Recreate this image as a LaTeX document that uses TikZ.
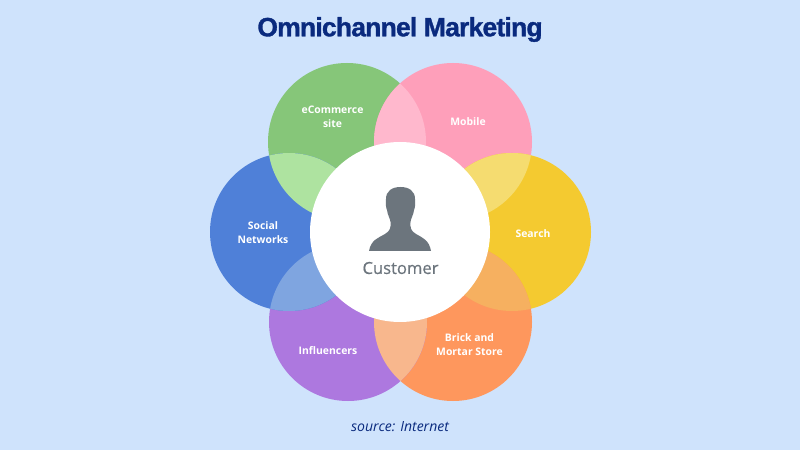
\documentclass[tikz,border=0pt]{standalone}
\usepackage{fontspec}
\setmainfont{Open Sans}
\newfontfamily\titlefont[BoldFeatures={FakeBold=1.2,LetterSpace=-3}]{Liberation Sans}
\newfontfamily\custfont[FakeBold=0.5]{Open Sans}
\definecolor{bgc}{HTML}{CFE3FC}
\definecolor{navy}{HTML}{0A2A7E}
\definecolor{cgreen}{HTML}{86C679}
\definecolor{cpink}{HTML}{FE9FBA}
\definecolor{cyellow}{HTML}{F4CA30}
\definecolor{corange}{HTML}{FE975D}
\definecolor{cpurple}{HTML}{AD78DF}
\definecolor{cblue}{HTML}{4F80D8}
\definecolor{lgp}{HTML}{FFB8CD}
\definecolor{lpy}{HTML}{F5DC70}
\definecolor{lyo}{HTML}{F6B060}
\definecolor{lop}{HTML}{F8B78D}
\definecolor{lpb}{HTML}{7FA5E0}
\definecolor{lbg}{HTML}{AEE3A0}
\definecolor{iconc}{HTML}{6C757D}
\begin{document}
\begin{tikzpicture}[x=1bp,y=-1bp,
  lab/.style={text=white,font=\fontsize{10.4bp}{14bp}\selectfont\bfseries,align=center,inner sep=0pt}]
\useasboundingbox (0,0) rectangle (800,450);
\fill[bgc] (0,0) rectangle (800,450);
\def\R{79}
\coordinate (G) at (347,142);
\coordinate (P) at (453,142);
\coordinate (Y) at (512,232);
\coordinate (O) at (453,322);
\coordinate (U) at (348,322);
\coordinate (B) at (289,232);
\fill[cgreen] (G) circle (\R);
\fill[cpink] (P) circle (\R);
\fill[cyellow] (Y) circle (\R);
\fill[corange] (O) circle (\R);
\fill[cpurple] (U) circle (\R);
\fill[cblue] (B) circle (\R);
\begin{scope}\clip (G) circle (\R); \fill[lgp] (P) circle (\R); \end{scope}
\begin{scope}\clip (P) circle (\R); \fill[lpy] (Y) circle (\R); \end{scope}
\begin{scope}\clip (Y) circle (\R); \fill[lyo] (O) circle (\R); \end{scope}
\begin{scope}\clip (O) circle (\R); \fill[lop] (U) circle (\R); \end{scope}
\begin{scope}\clip (U) circle (\R); \fill[lpb] (B) circle (\R); \end{scope}
\begin{scope}\clip (B) circle (\R); \fill[lbg] (G) circle (\R); \end{scope}
\fill[white] (400,232) circle (90);
% silhouette
\fill[iconc] (400.5,187)
  .. controls (392,187) and (386,191) .. (386,199)
  .. controls (385.5,204) and (386,208) .. (387,210)
  .. controls (387.5,215) and (390,218) .. (390.5,222)
  .. controls (391,228) and (390,231) .. (385,234)
  .. controls (378,238) and (371,240) .. (369,251)
  -- (431,251)
  .. controls (429,240) and (423,238) .. (416,234)
  .. controls (411,231) and (410,228) .. (410.5,222)
  .. controls (411,218) and (413.5,215) .. (414,210)
  .. controls (415,208) and (415.5,204) .. (415,199)
  .. controls (415,191) and (409,187) .. (400.5,187) -- cycle;
\node[text=iconc,font=\custfont\fontsize{16.6bp}{18bp}\selectfont,inner sep=0pt] (cust) at (400.5,268) {Customer};
\node[lab] (n1) at (332.5,116.5) {eCommerce\\site};
\node[lab] (n2) at (468,121.5) {Mobile};
\node[lab] (n3) at (533,233.5) {Search};
\node[lab] (n4) at (469.5,344.5) {Brick and\\Mortar Store};
\node[lab] (n5) at (328,350.5) {Influencers};
\node[lab] (n6) at (263,232.5) {Social\\Networks};
\node[text=navy,font=\titlefont\fontsize{26.5bp}{30bp}\selectfont\bfseries,inner sep=0pt] (title) at (400,29.5) {Omnichannel Marketing};
\node[text=navy,font=\fontsize{14bp}{16bp}\selectfont\itshape,inner sep=0pt] (src) at (400,427) {source: Internet};
\end{tikzpicture}
\end{document}
